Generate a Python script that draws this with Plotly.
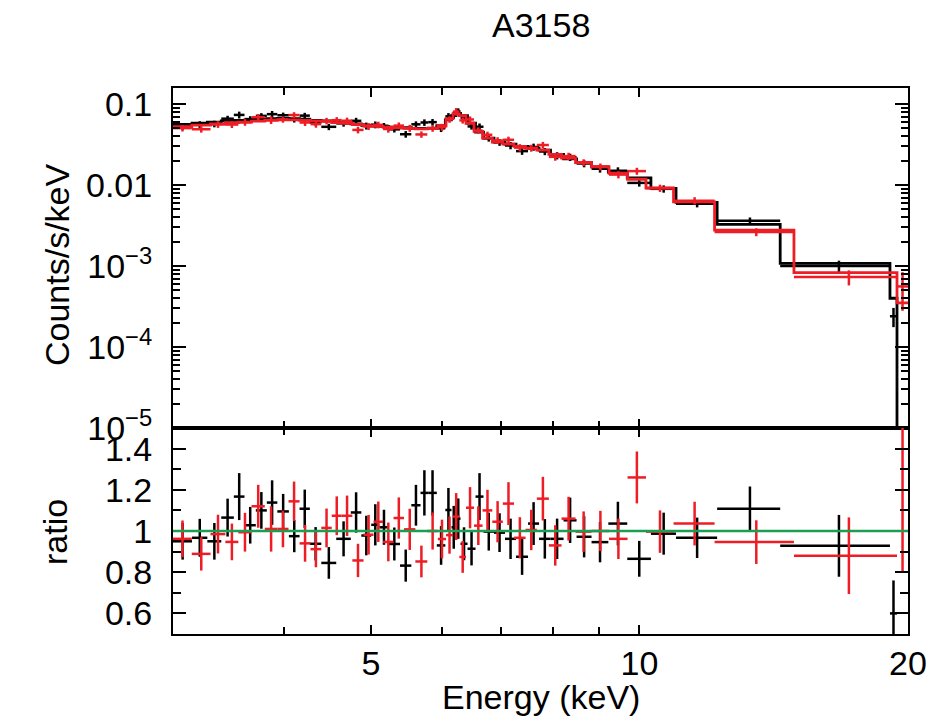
import numpy as np
import plotly.graph_objects as go

# ---------------- data ----------------
title_text = "A3158"
energy_range = [3.0, 20.0]          # keV

# dataset 1 (black): bin edges (keV), model (counts/s/keV), data/model ratio and its error
black_edges = [3.000, 3.151, 3.278, 3.398, 3.510, 3.608, 3.715, 3.822, 3.927, 4.046,
               4.159, 4.271, 4.399, 4.572, 4.747, 4.878, 5.004, 5.110, 5.233, 5.390,
               5.550, 5.683, 5.797, 5.927, 6.059, 6.156, 6.228, 6.301, 6.416, 6.550,
               6.686, 6.870, 7.068, 7.272, 7.501, 7.717, 7.949, 8.221, 8.501, 8.837,
               9.228, 9.690, 10.30, 10.99, 12.22, 14.38, 19.09, 19.44, 20.00]
black_model = [0.056, 0.058, 0.060, 0.062, 0.063, 0.0635, 0.065, 0.066, 0.0665, 0.066,
               0.065, 0.063, 0.062, 0.060, 0.057, 0.055, 0.054, 0.053, 0.052, 0.051,
               0.050, 0.050, 0.0505, 0.054, 0.064, 0.072, 0.0765, 0.072, 0.058, 0.045,
               0.038, 0.034, 0.032, 0.030, 0.0285, 0.027, 0.024, 0.021, 0.019, 0.0168,
               0.0145, 0.0123, 0.0091, 0.0061, 0.00327, 0.00108, 0.00040, 1e-7]
black_ratio = [0.95, 0.967, 0.95, 1.065, 1.167, 1.028, 1.10, 1.138, 1.095, 0.975,
               1.108, 0.938, 0.845, 0.962, 1.09, 0.978, 1.03, 1.018, 0.937, 0.832,
               1.125, 1.185, 1.185, 0.93, 1.102, 1.018, 1.06, 0.938, 0.914, 1.167,
               0.997, 0.992, 0.962, 0.875, 1.036, 0.962, 0.962, 1.052, 0.972, 0.946,
               1.036, 0.865, 0.987, 0.967, 1.108, 0.928, 0.60]
black_err = [0.089, 0.092, 0.089, 0.092, 0.114, 0.089, 0.089, 0.108, 0.085, 0.078,
             0.093, 0.081, 0.077, 0.085, 0.098, 0.096, 0.100, 0.085, 0.080, 0.078,
             0.099, 0.110, 0.110, 0.094, 0.107, 0.104, 0.098, 0.080, 0.081, 0.114,
             0.092, 0.094, 0.098, 0.088, 0.104, 0.096, 0.098, 0.110, 0.100, 0.098,
             0.106, 0.087, 0.102, 0.098, 0.108, 0.150, 0.160]

# dataset 2 (red)
red_edges = [3.000, 3.149, 3.305, 3.434, 3.551, 3.674, 3.802, 3.927, 4.042, 4.159,
             4.278, 4.399, 4.519, 4.637, 4.766, 4.906, 5.034, 5.159, 5.301, 5.446,
             5.608, 5.784, 5.943, 6.070, 6.180, 6.282, 6.391, 6.525, 6.670, 6.840,
             7.028, 7.235, 7.453, 7.673, 7.915, 8.178, 8.479, 8.837, 9.245, 9.697,
             10.17, 10.92, 12.14, 14.90, 19.44, 20.00]
red_model = [0.0525, 0.055, 0.057, 0.059, 0.060, 0.0615, 0.063, 0.064, 0.064, 0.063,
             0.062, 0.061, 0.059, 0.058, 0.056, 0.054, 0.053, 0.052, 0.051, 0.050,
             0.0495, 0.050, 0.054, 0.066, 0.0755, 0.072, 0.058, 0.046, 0.038, 0.034,
             0.032, 0.030, 0.0285, 0.027, 0.024, 0.0215, 0.019, 0.0168, 0.0140, 0.0118,
             0.0092, 0.0062, 0.00278, 0.00083, 0.00035]
red_ratio = [0.962, 0.889, 0.985, 0.947, 0.994, 1.12, 1.01, 1.01, 1.144, 0.94,
             0.912, 1.015, 1.074, 1.074, 0.857, 0.982, 1.045, 0.947, 1.063, 1.008,
             0.852, 1.0, 0.961, 0.98, 1.07, 0.874, 1.113, 1.026, 1.10, 1.045,
             1.133, 0.967, 1.005, 1.157, 0.93, 1.06, 0.997, 1.0, 0.962, 1.26,
             0.997, 1.036, 0.946, 0.88, 1.6]
red_err = [0.089, 0.081, 0.094, 0.089, 0.094, 0.104, 0.110, 0.089, 0.096, 0.089,
           0.088, 0.094, 0.094, 0.098, 0.081, 0.096, 0.098, 0.094, 0.100, 0.100,
           0.077, 0.090, 0.094, 0.090, 0.114, 0.077, 0.100, 0.094, 0.100, 0.100,
           0.104, 0.100, 0.098, 0.106, 0.098, 0.106, 0.098, 0.098, 0.098, 0.126,
           0.103, 0.106, 0.106, 0.186, 0.80]

upper_tickvals = [1e-5, 1e-4, 1e-3, 0.01, 0.1]
upper_ticktext = ["10<sup>\u22125</sup>", "10<sup>\u22124</sup>", "10<sup>\u22123</sup>", "0.01", "0.1"]
ratio_tickvals = [0.6, 0.8, 1.0, 1.2, 1.4]
ratio_ticktext = ["0.6", "0.8", "1", "1.2", "1.4"]
energy_tickvals = [5, 10, 20]
energy_ticktext = ["5", "10", "20"]

# ---------------- styling ----------------
BLACK = "#000000"
RED = "#ee1d25"
GREEN = "#1a9f52"
FONT = "Liberation Sans, Arial, Helvetica, sans-serif"
FS = 34
ERR_W = 2.5

W, H = 941, 718
L, R, T, B = 173, 33, 88, 84
split_px = 428
plot_h = H - T - B
split = (H - B - split_px) / plot_h


def px_to_paper_y(py):
    return (H - B - py) / plot_h


def px_to_paper_x(px):
    return (px - L) / (W - L - R)


fig = go.Figure()


def add_dataset(edges, model, ratio, err, color):
    e = np.array(edges)
    m = np.array(model)
    n = len(ratio)
    lo, hi = e[:n], e[1:n + 1]
    c = 0.5 * (lo + hi)
    r = np.array(ratio)
    re = np.array(err)
    data = m[:n] * r
    data_err = m[:n] * re
    ex = dict(type="data", symmetric=False, array=hi - c, arrayminus=c - lo,
              width=0, thickness=ERR_W, color=color)
    # upper panel: data crosses
    fig.add_trace(go.Scatter(x=c, y=data, mode="markers", marker=dict(size=1, color=color),
                             error_x=ex,
                             error_y=dict(type="data", array=data_err, width=0, thickness=ERR_W, color=color),
                             xaxis="x", yaxis="y", showlegend=False, hoverinfo="skip"))
    # upper panel: model histogram
    fig.add_trace(go.Scatter(x=e, y=np.append(m, m[-1]), mode="lines",
                             line=dict(shape="hv", width=2.8, color=color),
                             xaxis="x", yaxis="y", showlegend=False, hoverinfo="skip"))
    # lower panel: ratio crosses
    fig.add_trace(go.Scatter(x=c, y=r, mode="markers", marker=dict(size=1, color=color),
                             error_x=ex,
                             error_y=dict(type="data", array=re, width=0, thickness=ERR_W, color=color),
                             xaxis="x2", yaxis="y2", showlegend=False, hoverinfo="skip"))


add_dataset(black_edges, black_model, black_ratio, black_err, BLACK)
add_dataset(red_edges, red_model, red_ratio, red_err, RED)

xr = [np.log10(energy_range[0]), np.log10(energy_range[1])]
x_minor = [4, 6, 7, 8, 9]
common_x = dict(type="log", range=xr, showline=True, linewidth=2, linecolor=BLACK,
                mirror="allticks", ticks="inside", ticklen=9, tickwidth=2, tickcolor=BLACK,
                tickvals=energy_tickvals, ticktext=energy_ticktext, showgrid=False, zeroline=False,
                minor=dict(tickvals=x_minor, ticks="inside", ticklen=7, tickwidth=2,
                           tickcolor=BLACK, showgrid=False),
                tickfont=dict(family=FONT, size=FS, color=BLACK))

y_minor = [k * 10.0 ** d for d in range(-5, 0) for k in range(2, 10)]

fig.update_layout(
    width=W, height=H, margin=dict(l=L, r=R, t=T, b=B, pad=0),
    paper_bgcolor="white", plot_bgcolor="white", showlegend=False,
    xaxis=dict(common_x, anchor="y", domain=[0, 1], showticklabels=False),
    xaxis2=dict(common_x, anchor="y2", domain=[0, 1], showticklabels=True,
                ticklabelstandoff=-2),
    yaxis=dict(type="log", range=[-5, np.log10(0.158)], domain=[split, 1], anchor="x",
               showline=True, linewidth=2, linecolor=BLACK, mirror="allticks",
               ticks="inside", ticklen=13, tickwidth=2, tickcolor=BLACK,
               tickvals=upper_tickvals, ticktext=upper_ticktext, showgrid=False, zeroline=False,
               minor=dict(tickvals=y_minor, ticks="inside", ticklen=7, tickwidth=2,
                          tickcolor=BLACK, showgrid=False),
               tickfont=dict(family=FONT, size=FS, color=BLACK), ticklabelstandoff=12),
    yaxis2=dict(range=[0.5, 1.5], domain=[0, split], anchor="x2",
                showline=True, linewidth=2, linecolor=BLACK, mirror="allticks",
                ticks="inside", ticklen=13, tickwidth=2, tickcolor=BLACK,
                tickvals=ratio_tickvals, ticktext=ratio_ticktext, showgrid=False, zeroline=False,
                minor=dict(dtick=0.1, tick0=0.5, ticks="inside", ticklen=8, tickwidth=2,
                           tickcolor=BLACK, showgrid=False),
                tickfont=dict(family=FONT, size=FS, color=BLACK), ticklabelstandoff=12),
    shapes=[dict(type="line", xref="x2 domain", x0=0, x1=1, yref="y2", y0=1, y1=1,
                 line=dict(color=GREEN, width=2.6), layer="above")],
    annotations=[
        dict(text=title_text, xref="paper", yref="paper", x=px_to_paper_x(541), y=px_to_paper_y(25),
             xanchor="center", yanchor="middle", showarrow=False,
             font=dict(family=FONT, size=FS, color=BLACK)),
        dict(text="Counts/s/keV", xref="paper", yref="paper", x=px_to_paper_x(57), y=px_to_paper_y(265),
             xanchor="center", yanchor="middle", textangle=-90, showarrow=False,
             font=dict(family=FONT, size=FS, color=BLACK)),
        dict(text="ratio", xref="paper", yref="paper", x=px_to_paper_x(55), y=px_to_paper_y(532),
             xanchor="center", yanchor="middle", textangle=-90, showarrow=False,
             font=dict(family=FONT, size=FS, color=BLACK)),
        dict(text="Energy (keV)", xref="paper", yref="paper", x=px_to_paper_x(541), y=px_to_paper_y(697),
             xanchor="center", yanchor="middle", showarrow=False,
             font=dict(family=FONT, size=FS, color=BLACK)),
    ],
)

fig.write_html("out.html", config={"displayModeBar": False},
               post_script="document.body.style.margin='0px';document.body.style.overflow='hidden';")
